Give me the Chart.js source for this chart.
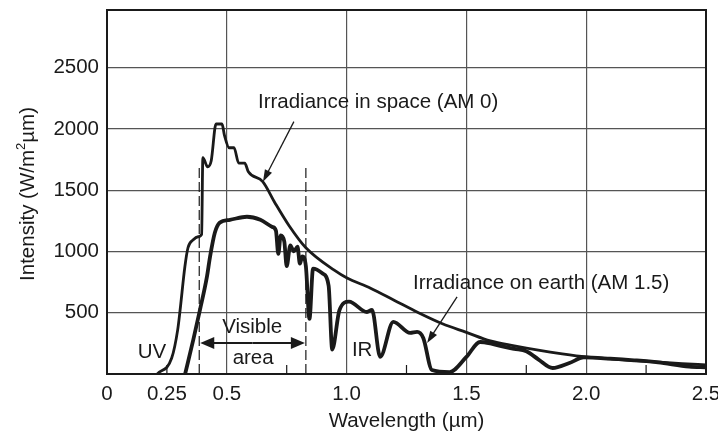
<!DOCTYPE html>
<html lang="en">
<head>
<meta charset="UTF-8">
<title>Solar irradiance spectrum</title>
<script src="https://cdn.jsdelivr.net/npm/chart.js"></script>
<style>
  body { margin: 0; background: #fff; }
</style>
</head>
<body>
<canvas id="spectrum" width="718" height="434"></canvas>
<script>
// wavelength (um) / intensity (W/m2um)
const spaceX = [0.21,0.27,0.295,0.305,0.325,0.338,0.36,0.38,0.395,0.40,0.42,0.435,0.455,0.48,0.49,0.51,0.53,0.55,0.575,0.59,0.65,0.70,0.76,0.83,0.95,1.0,1.1,1.2,1.3,1.4,1.5,1.6,1.7,1.8,1.9,2.0,2.2,2.4,2.5];
const spaceY = [0,130,360,520,875,1030,1095,1120,1140,1765,1690,1740,2040,2040,1950,1846,1846,1720,1720,1650,1570,1400,1210,1030,845,785,700,600,500,410,340,270,230,195,165,140,110,85,75];

const earthX = [0.326,0.36,0.388,0.417,0.43,0.45,0.47,0.513,0.584,0.64,0.69,0.705,0.715,0.725,0.74,0.75,0.765,0.78,0.795,0.805,0.815,0.83,0.845,0.86,0.90,0.925,0.94,0.97,1.01,1.085,1.106,1.14,1.195,1.265,1.294,1.32,1.356,1.43,1.50,1.557,1.60,1.65,1.70,1.75,1.80,1.86,1.93,1.99,2.1,2.2,2.3,2.43,2.5];
const earthY = [0,278,523,792,956,1152,1234,1258,1283,1258,1200,1170,980,1130,1080,880,1050,1000,1040,900,960,880,450,860,820,720,200,520,590,506,523,140,425,335,343,294,33,16,139,261,250,225,205,185,120,49,90,135,125,112,95,60,55];

const visibleEdges = [0.385, 0.83];
const edgeTop = 1690;

const xTicks = [0, 0.25, 0.5, 1.0, 1.5, 2.0, 2.5];
const xTickLabels = ['0', '0.25', '0.5', '1.0', '1.5', '2.0', '2.5'];
const xGrid = [0.5, 1.0, 1.5, 2.0];
const minorTicks = [0.25, 0.75, 1.25, 1.75, 2.25];
const yTicks = [500, 1000, 1500, 2000, 2500];

const FONT = '"Liberation Sans", Arial, Helvetica, sans-serif';
const FS = 20.5;
const INK = '#1a1a1a';

function pts(xs, ys) {
  return xs.map((x, i) => ({ x: x, y: ys[i] }));
}

function arrow(ctx, x1, y1, x2, y2, len, wid) {
  const a = Math.atan2(y2 - y1, x2 - x1);
  ctx.beginPath();
  ctx.moveTo(x1, y1);
  ctx.lineTo(x2 - Math.cos(a) * len * 0.6, y2 - Math.sin(a) * len * 0.6);
  ctx.stroke();
  ctx.beginPath();
  ctx.moveTo(x2, y2);
  ctx.lineTo(x2 - Math.cos(a) * len - Math.sin(a) * wid, y2 - Math.sin(a) * len + Math.cos(a) * wid);
  ctx.lineTo(x2 - Math.cos(a) * len + Math.sin(a) * wid, y2 - Math.sin(a) * len - Math.cos(a) * wid);
  ctx.closePath();
  ctx.fill();
}

const extras = {
  id: 'extras',
  afterDatasetsDraw(chart) {
    const { ctx, chartArea: a, scales: { x, y } } = chart;
    ctx.save();
    ctx.strokeStyle = INK;
    ctx.fillStyle = INK;

    // frame
    ctx.lineWidth = 2;
    ctx.strokeRect(a.left, a.top, a.right - a.left, a.bottom - a.top);

    // short inner ticks
    ctx.lineWidth = 1.2;
    minorTicks.forEach(v => {
      const px = x.getPixelForValue(v);
      ctx.beginPath();
      ctx.moveTo(px, a.bottom);
      ctx.lineTo(px, a.bottom - 9);
      ctx.stroke();
    });

    // annotations
    ctx.font = FS + 'px ' + FONT;
    ctx.textBaseline = 'middle';
    ctx.textAlign = 'left';
    ctx.fillText('Irradiance in space (AM 0)', x.getPixelForValue(0.63), y.getPixelForValue(2215));
    ctx.fillText('Irradiance on earth (AM 1.5)', x.getPixelForValue(1.277), y.getPixelForValue(743));
    ctx.textAlign = 'center';
    ctx.fillText('Visible', x.getPixelForValue(0.606), y.getPixelForValue(378));
    ctx.fillText('area', x.getPixelForValue(0.61), y.getPixelForValue(131));
    ctx.fillText('UV', x.getPixelForValue(0.188), y.getPixelForValue(180));
    ctx.fillText('IR', x.getPixelForValue(1.065), y.getPixelForValue(196));

    ctx.lineWidth = 1.3;
    arrow(ctx, x.getPixelForValue(0.78), y.getPixelForValue(2059),
      x.getPixelForValue(0.651), y.getPixelForValue(1569), 12, 4);
    arrow(ctx, x.getPixelForValue(1.461), y.getPixelForValue(629),
      x.getPixelForValue(1.336), y.getPixelForValue(253), 12, 4);

    // visible area double arrow
    ctx.lineWidth = 2.2;
    const yv = y.getPixelForValue(253);
    const xl = x.getPixelForValue(visibleEdges[0]) + 1;
    const xr = x.getPixelForValue(visibleEdges[1]) - 1;
    const xm = (xl + xr) / 2;
    arrow(ctx, xm, yv, xl, yv, 14, 6);
    arrow(ctx, xm, yv, xr, yv, 14, 6);

    // y axis title with superscript
    ctx.save();
    ctx.translate(27, (a.top + a.bottom) / 2 + 2);
    ctx.rotate(-Math.PI / 2);
    ctx.textAlign = 'left';
    ctx.textBaseline = 'alphabetic';
    const p1 = 'Intensity (W/m', p2 = '2', p3 = '\u00b5m)';
    ctx.font = FS + 'px ' + FONT;
    const w1 = ctx.measureText(p1).width, w3 = ctx.measureText(p3).width;
    ctx.font = '13px ' + FONT;
    const w2 = ctx.measureText(p2).width;
    const sx = -(w1 + w2 + w3) / 2;
    ctx.font = FS + 'px ' + FONT;
    ctx.fillText(p1, sx, 7);
    ctx.font = '13px ' + FONT;
    ctx.fillText(p2, sx + w1, -2);
    ctx.font = FS + 'px ' + FONT;
    ctx.fillText(p3, sx + w1 + w2, 7);
    ctx.restore();

    // x axis title
    ctx.textAlign = 'center';
    ctx.textBaseline = 'middle';
    ctx.fillText('Wavelength (\u00b5m)', (a.left + a.right) / 2, 421);

    ctx.restore();
  }
};

new Chart(document.getElementById('spectrum'), {
  type: 'line',
  data: {
    datasets: [
      {
        label: 'Irradiance in space (AM 0)',
        data: pts(spaceX, spaceY),
        borderColor: INK,
        borderWidth: 2.8,
        borderJoinStyle: 'round',
        cubicInterpolationMode: 'monotone',
        pointRadius: 0
      },
      {
        label: 'Irradiance on earth (AM 1.5)',
        data: pts(earthX, earthY),
        borderColor: INK,
        borderWidth: 3.8,
        borderJoinStyle: 'round',
        cubicInterpolationMode: 'monotone',
        pointRadius: 0
      },
      {
        label: 'visible edge 1',
        data: [{ x: visibleEdges[0], y: 0 }, { x: visibleEdges[0], y: edgeTop }],
        borderColor: INK,
        borderWidth: 1.2,
        borderDash: [10, 4],
        pointRadius: 0
      },
      {
        label: 'visible edge 2',
        data: [{ x: visibleEdges[1], y: 0 }, { x: visibleEdges[1], y: edgeTop }],
        borderColor: INK,
        borderWidth: 1.2,
        borderDash: [10, 4],
        pointRadius: 0
      }
    ]
  },
  options: {
    responsive: false,
    animation: false,
    layout: { padding: { top: 10, right: 12, left: 0, bottom: 0 } },
    plugins: { legend: { display: false }, tooltip: { enabled: false } },
    scales: {
      x: {
        type: 'linear',
        min: 0,
        max: 2.5,
        afterBuildTicks: s => { s.ticks = xTicks.map(v => ({ value: v })); },
        afterFit: s => { s.height = 60; s.paddingLeft = 0; s.paddingRight = 0; },
        border: { display: false },
        grid: {
          drawTicks: false,
          lineWidth: 1.2,
          color: c => (c.tick && xGrid.includes(c.tick.value)) ? '#555' : 'rgba(0,0,0,0)'
        },
        ticks: {
          padding: 8,
          color: INK,
          autoSkip: false,
          maxRotation: 0,
          font: { family: FONT, size: FS },
          callback: (v, i) => xTickLabels[i]
        }
      },
      y: {
        min: 0,
        max: 2970,
        afterBuildTicks: s => { s.ticks = yTicks.map(v => ({ value: v })); },
        afterFit: s => { s.width = 107; s.paddingTop = 0; s.paddingBottom = 0; },
        border: { display: false },
        grid: { drawTicks: false, lineWidth: 1.2, color: '#555' },
        ticks: {
          padding: 8,
          color: INK,
          font: { family: FONT, size: FS },
          callback: v => String(v)
        }
      }
    }
  },
  plugins: [extras]
});
</script>
</body>
</html>
